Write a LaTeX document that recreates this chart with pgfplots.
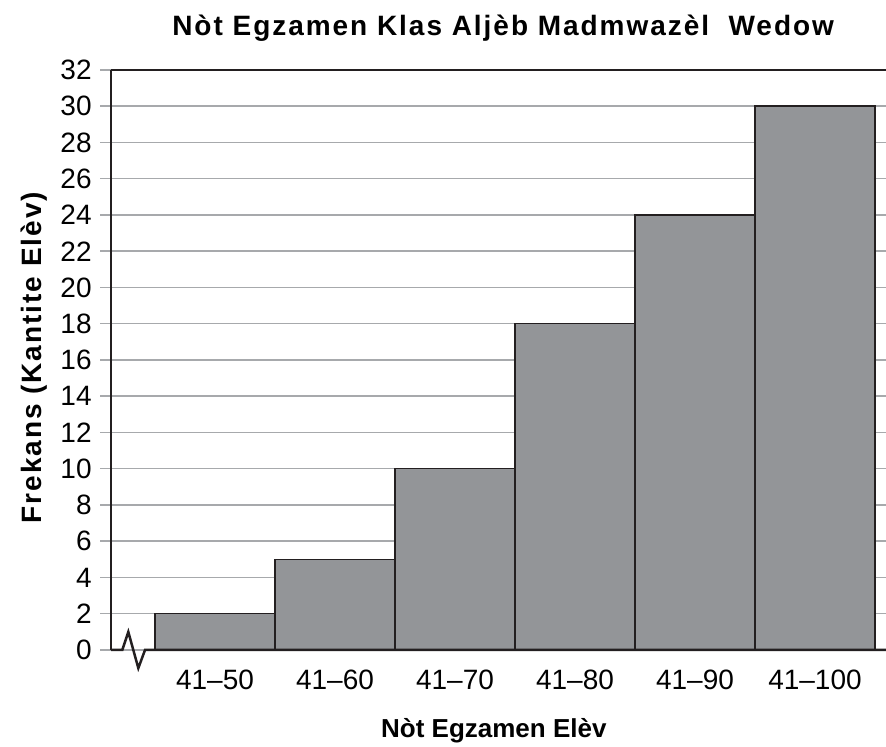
\documentclass[border=0pt]{standalone}
\usepackage{fontspec}
\setmainfont{Liberation Sans}
\usepackage{pgfplots}
\pgfplotsset{compat=1.18}
\definecolor{barfill}{HTML}{939598}
\definecolor{baredge}{HTML}{231F20}
\definecolor{gridgray}{HTML}{A7A9AC}

\begin{document}
\begin{tikzpicture}
\begin{axis}[
    name=ax,
    scale only axis,
    width=387.5pt, height=290pt,
    xmin=0.1333, xmax=6.5917,
    ymin=0, ymax=32,
    ytick={0,2,...,32},
    xtick={1,2,3,4,5,6},
    xticklabels={41--50,41--60,41--70,41--80,41--90,41--100},
    axis lines*=left,
    x axis line style={draw=none},
    y axis line style={line width=1.4pt, color=baredge},
    xtick style={draw=none},
    ytick style={color=gridgray, line width=0.75pt},
    tick align=outside,
    major tick length=5.5pt,
    ymajorgrids=true,
    grid style={color=gridgray, line width=0.75pt},
    ticklabel style={font=\fontsize{14}{16}\selectfont},
    yticklabel style={inner sep=0pt, xshift=-4pt},
    xticklabel style={inner sep=0pt, anchor=base, yshift=-14.5pt},
    /pgf/number format/assume math mode=true,
    clip=false,
    ybar, bar width=1,
]
\addplot[fill=barfill, draw=baredge, line width=0.75pt] coordinates {
    (1,2)(2,5)(3,10)(4,18)(5,24)(6,30)
};
% top frame line and bottom axis with break
\draw[line width=1.4pt, color=baredge] (rel axis cs:0,1) -- (rel axis cs:1,1);
\draw[line width=1.25pt, color=baredge, line join=miter]
    (axis cs:0.1333,0) -- (axis cs:0.2275,0) -- (axis cs:0.2775,1.0)
    -- (axis cs:0.361,-1.0) -- (axis cs:0.4167,0) -- (axis cs:6.5917,0);
\node[anchor=base, font=\fontsize{14}{16}\selectfont\bfseries\addfontfeature{LetterSpace=7}]
    at ([yshift=17pt]rel axis cs:0.506,1) {Nòt Egzamen Klas Aljèb Madmwazèl\ \ Wedow};
\node[anchor=base, font=\fontsize{13}{16}\selectfont\bfseries]
    at ([yshift=-44pt]rel axis cs:0.494,0) {Nòt Egzamen Elèv};
\node[anchor=base, rotate=90, font=\fontsize{14}{16}\selectfont\bfseries\addfontfeature{LetterSpace=7}]
    at ([xshift=-34.5pt]rel axis cs:0,0.504) {Frekans (Kantite Elèv)};
\end{axis}
\pgfresetboundingbox
\path[use as bounding box] ([shift={(-55.5pt,-48.5pt)}]ax.south west) rectangle ([shift={(0pt,35pt)}]ax.north east);
\end{tikzpicture}
\end{document}
